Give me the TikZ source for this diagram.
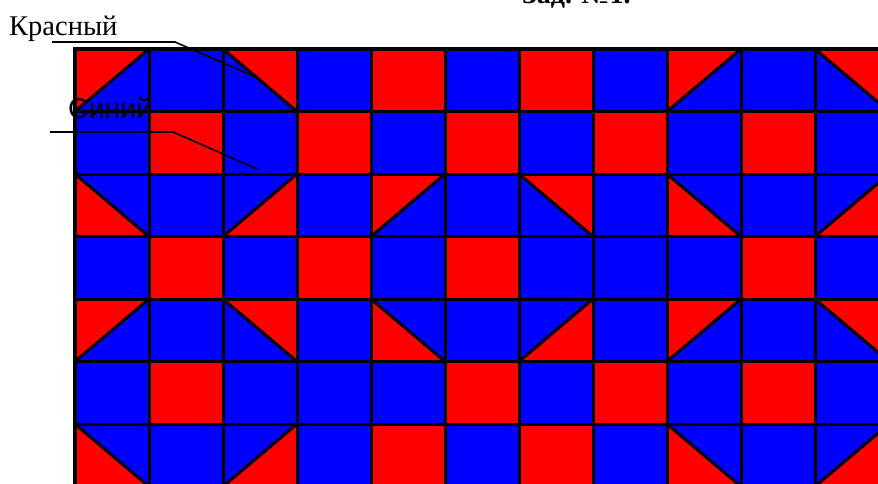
\documentclass[tikz,border=0pt]{standalone}
\usepackage{fontspec}
\setmainfont{Liberation Serif}
\newfontfamily\arialfont{Liberation Sans}
\tikzset{
  gridline/.style={draw=black, line width=3pt, line cap=rect},
  leader/.style={draw=black, line width=1.6pt},
  redfill/.style={fill={rgb,255:red,255;green,0;blue,0}},
  bluefill/.style={fill={rgb,255:red,0;green,0;blue,255}},
}
\newcommand\cellR{\fill[redfill] (\xl,\yt) rectangle (\xr,\yb);}
\newcommand\cellB{}
\newcommand\cellTL{\fill[redfill] (\xl,\yt) -- (\xr,\yt) -- (\xl,\yb) -- cycle; \draw[gridline] (\xr,\yt) -- (\xl,\yb);}
\newcommand\cellTR{\fill[redfill] (\xl,\yt) -- (\xr,\yt) -- (\xr,\yb) -- cycle; \draw[gridline] (\xl,\yt) -- (\xr,\yb);}
\newcommand\cellBL{\fill[redfill] (\xl,\yt) -- (\xl,\yb) -- (\xr,\yb) -- cycle; \draw[gridline] (\xl,\yt) -- (\xr,\yb);}
\newcommand\cellBR{\fill[redfill] (\xr,\yt) -- (\xr,\yb) -- (\xl,\yb) -- cycle; \draw[gridline] (\xr,\yt) -- (\xl,\yb);}
\begin{document}
\begin{tikzpicture}[x=1pt,y=-1pt]
\useasboundingbox (0,0) rectangle (878,483);
\clip (0,0) rectangle (878,483);
\fill[white] (0,0) rectangle (878,483);
% blue background of the pattern
\fill[bluefill] (75,49) rectangle (889,486.5);
% cells
\foreach \row [count=\r from 0] in {
  {TL,B,TR,B,R,B,R,B,TL,B,TR},
  {B,R,B,R,B,R,B,R,B,R,B},
  {BL,B,BR,B,TL,B,TR,B,BL,B,BR},
  {B,R,B,R,B,R,B,B,B,R,B},
  {TL,B,TR,B,BL,B,BR,B,TL,B,TR},
  {B,R,B,B,B,R,B,R,B,R,B},
  {BL,B,BR,B,R,B,R,B,BL,B,BR}} {
  \foreach \t [count=\c from 0] in \row {
    \pgfmathsetmacro\xl{75+74*\c}
    \pgfmathsetmacro\xr{\xl+74}
    \pgfmathsetmacro\yt{49+62.5*\r}
    \pgfmathsetmacro\yb{\yt+62.5}
    \csname cell\t\endcsname
  }
}
% grid lines
\foreach \i in {0,...,11} {
  \draw[gridline] ({75+74*\i},49) -- ({75+74*\i},490);
}
\foreach \j in {0,...,7} {
  \draw[gridline] (75,{49+62.5*\j}) -- (890,{49+62.5*\j});
}
\draw[black, line width=3.6pt] (890,49) -- (75,49) -- (75,490);
% title (cut off at the top, as in the original)
\node[anchor=base west, inner sep=0pt, font=\fontsize{28}{30}\selectfont\bfseries] (title) at (522,3) {Зад. №1.};
% labels
\node[anchor=base west, inner sep=0pt, font=\fontsize{28.5}{30}\selectfont] (krasny) at (9,35) {Красный};
\node[anchor=base west, inner sep=0pt, font=\arialfont\fontsize{28.5}{30}\selectfont] (siniy) at (68,118) {Синий};
% leader lines
\coordinate (k1) at (52,42);
\coordinate (k2) at (175,42);
\coordinate (k3) at (258,78);
\coordinate (s1) at (50,132);
\coordinate (s2) at (173,132);
\coordinate (s3) at (257,169);
\draw[leader] (k1) -- (k2) -- (k3);
\draw[leader] (s1) -- (s2) -- (s3);
\end{tikzpicture}
\end{document}
